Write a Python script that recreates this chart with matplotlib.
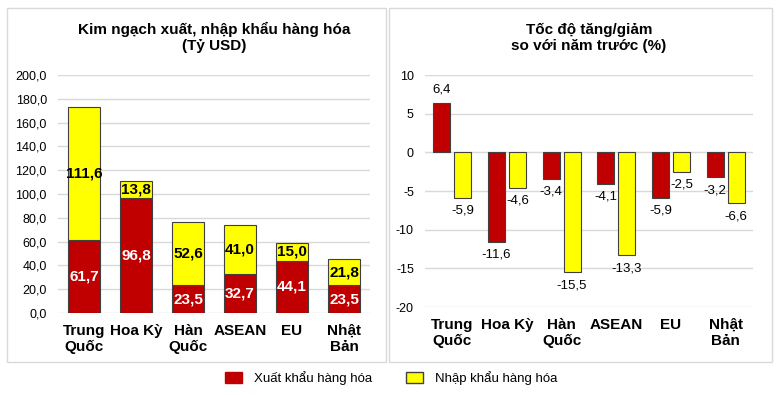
import matplotlib.pyplot as plt
import numpy as np
from matplotlib.patches import Rectangle, Patch

plt.rcParams["font.family"] = ["Liberation Sans", "DejaVu Sans"]
plt.rcParams["axes.unicode_minus"] = False

categories = ["Trung\nQuốc", "Hoa Kỳ", "Hàn\nQuốc", "ASEAN", "EU", "Nhật\nBản"]
export_val = [61.7, 96.8, 23.5, 32.7, 44.1, 23.5]
import_val = [111.6, 13.8, 52.6, 41.0, 15.0, 21.8]
export_pct = [6.4, -11.6, -3.4, -4.1, -5.9, -3.2]
import_pct = [-5.9, -4.6, -15.5, -13.3, -2.5, -6.6]

RED = "#C00000"
YEL = "#FFFF00"
EDGE = "#404040"
GRID = "#D9D9D9"


def fmt(v):
    return f"{v:.1f}".replace(".", ",")


W, H = 782, 395
fig = plt.figure(figsize=(W / 100, H / 100), dpi=100)

# panel frames
for x0, x1 in [(7, 386), (389, 772)]:
    fig.patches.append(Rectangle((x0 / W, 1 - 362 / H), (x1 - x0) / W, (362 - 8) / H,
                                 transform=fig.transFigure, fill=False,
                                 edgecolor=GRID, linewidth=1))

x = np.arange(len(categories))

# left: stacked values
ax1 = fig.add_axes([58 / W, 1 - 313 / H, (370 - 58) / W, (313 - 75) / H])
b1 = ax1.bar(x, export_val, 0.6, color=RED, edgecolor=EDGE, linewidth=0.8, zorder=3)
b2 = ax1.bar(x, import_val, 0.6, bottom=export_val, color=YEL, edgecolor=EDGE,
             linewidth=0.8, zorder=3)
ax1.bar_label(b1, labels=[fmt(v) for v in export_val], label_type="center",
              color="white", fontsize=11, fontweight="bold", zorder=4)
ax1.bar_label(b2, labels=[fmt(v) for v in import_val], label_type="center",
              color="black", fontsize=11, fontweight="bold", zorder=4)
ax1.set_ylim(0, 200)
ax1.set_xlim(-0.5, len(categories) - 0.5)
ax1.set_yticks(np.arange(0, 201, 20))
ax1.set_yticklabels([fmt(v) for v in np.arange(0, 201, 20)])
ax1.set_title("Kim ngạch xuất, nhập khẩu hàng hóa\n(Tỷ USD)", fontsize=11,
              fontweight="bold", pad=18, linespacing=1.15)

# right: growth rates
ax2 = fig.add_axes([425 / W, 1 - 307 / H, (753 - 425) / W, (307 - 75) / H])
bw = 0.31
off = 0.19
r1 = ax2.bar(x - off, export_pct, bw, color=RED, edgecolor=EDGE, linewidth=0.8, zorder=3)
r2 = ax2.bar(x + off, import_pct, bw, color=YEL, edgecolor=EDGE, linewidth=0.8, zorder=3)
for bars, vals in [(r1, export_pct), (r2, import_pct)]:
    for b, v in zip(bars, vals):
        cx = b.get_x() + b.get_width() / 2
        if v >= 0:
            ax2.annotate(fmt(v), (cx, v), xytext=(0, 5), textcoords="offset points",
                         ha="center", va="bottom", fontsize=9.5)
        else:
            ax2.annotate(fmt(v), (cx, v), xytext=(0, -5), textcoords="offset points",
                         ha="center", va="top", fontsize=9.5)
ax2.set_ylim(-20, 10)
ax2.set_xlim(-0.5, len(categories) - 0.5)
ax2.set_yticks(np.arange(-20, 11, 5))
ax2.set_title("Tốc độ tăng/giảm\nso với năm trước (%)", fontsize=11,
              fontweight="bold", pad=18, linespacing=1.15)

for ax in (ax1, ax2):
    ax.set_xticks(x)
    ax.set_xticklabels(categories, fontsize=11, fontweight="bold", linespacing=1.2)
    ax.tick_params(axis="both", length=0)
    ax.tick_params(axis="y", labelsize=9, pad=8)
    ax.tick_params(axis="x", pad=8)
    ax.grid(axis="y", color=GRID, linewidth=1, zorder=0)
    for s in ax.spines.values():
        s.set_visible(False)

handles = [Patch(facecolor=RED, edgecolor=RED), Patch(facecolor=YEL, edgecolor=EDGE)]
fig.legend(handles, ["Xuất khẩu hàng hóa", "Nhập khẩu hàng hóa"], ncol=2,
           loc="center", bbox_to_anchor=(0.5, 1 - 378 / H), frameon=False,
           fontsize=9.5, handlelength=1.3, handleheight=1.0, handletextpad=0.9,
           columnspacing=2.6)

fig.savefig("out.png", dpi=100)
